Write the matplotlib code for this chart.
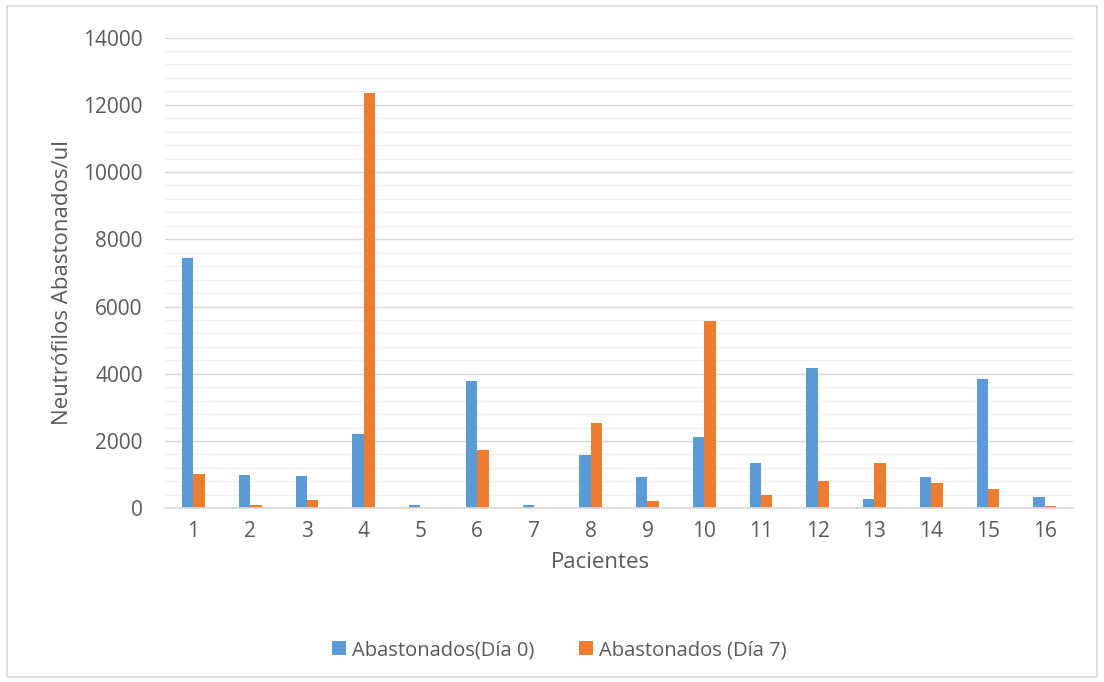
import matplotlib
matplotlib.use("Agg")
import matplotlib.pyplot as plt
from matplotlib.patches import Rectangle
from matplotlib.ticker import MultipleLocator
import numpy as np

# Values
pacientes = [str(i) for i in range(1, 17)]
dia0 = [7450, 980, 950, 2200, 90, 3800, 110, 1580, 920, 2110, 1340, 4180, 280, 930, 3850, 340]
dia7 = [1030, 110, 250, 12340, 10, 1730, 0, 2530, 210, 5570, 400, 810, 1350, 750, 580, 60]

plt.rcParams['font.family'] = ['Open Sans', 'DejaVu Sans']
text_color = '#595959'

fig = plt.figure(figsize=(11.04, 6.82), dpi=100)
ax = fig.add_axes([0.1495, 0.2547, 0.8225, 0.6903])

x = np.arange(len(pacientes))
w = 0.2
ax.bar(x - w / 2, dia0, width=w, color='#5B9BD5', label='Abastonados(Día 0)')
ax.bar(x + w / 2, dia7, width=w, color='#ED7D31', label='Abastonados (Día 7)')

ax.set_xlim(-0.5, len(pacientes) - 0.5)
ax.set_ylim(0, 14000)
ax.yaxis.set_major_locator(MultipleLocator(2000))
ax.yaxis.set_minor_locator(MultipleLocator(400))
ax.grid(axis='y', which='major', color='#d9d9d9', linewidth=1.0)
ax.grid(axis='y', which='minor', color='#f2f2f2', linewidth=1.0)
ax.set_axisbelow(True)

for side in ['top', 'right', 'left']:
    ax.spines[side].set_visible(False)
ax.spines['bottom'].set_color('#d9d9d9')
ax.spines['bottom'].set_linewidth(1.2)

ax.set_xticks(x)
ax.set_xticklabels(pacientes)
ax.tick_params(axis='both', which='both', length=0, labelsize=15, colors=text_color)
ax.tick_params(axis='y', pad=16)
ax.tick_params(axis='x', pad=9)

ax.set_xlabel('Pacientes', fontsize=16, color=text_color)
ax.xaxis.set_label_coords(0.479, -0.092)
ax.set_ylabel('Neutrófilos Abastonados/ul', fontsize=16, color=text_color)
ax.yaxis.set_label_coords(-0.101, 0.48)

ax.legend(loc='center', bbox_to_anchor=(0.434, -0.302), ncol=2, frameon=False,
          fontsize=14.5, labelcolor=text_color, handlelength=0.7, handleheight=0.7,
          columnspacing=2.2, handletextpad=0.3)

fig.patches.append(Rectangle((0.0065, 0.007), 0.987, 0.984, transform=fig.transFigure,
                             fill=False, edgecolor='#d9d9d9', linewidth=1.2))

fig.savefig('out.png', dpi=100)
